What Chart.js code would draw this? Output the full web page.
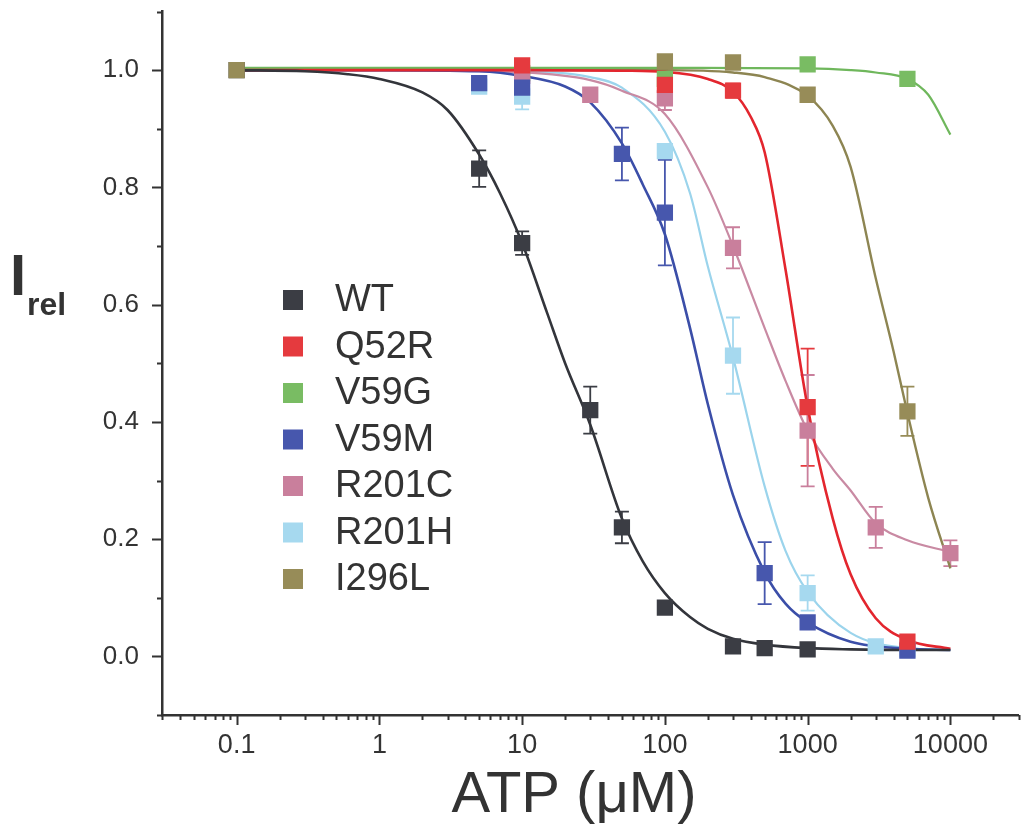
<!DOCTYPE html>
<html>
<head>
<meta charset="utf-8">
<script src="https://cdn.jsdelivr.net/npm/chart.js@4.4.1/dist/chart.umd.min.js"></script>
<style>
  html, body { margin: 0; padding: 0; background: #ffffff; }
  #wrap { width: 1030px; height: 836px; position: relative; }
</style>
</head>
<body>
<div id="wrap"><canvas id="chart" width="1030" height="836"></canvas></div>
<script>
// ---- ATP inhibition of K-ATP currents: measured means, SEM and fitted curves ----
const seriesNames = ['WT', 'Q52R', 'V59G', 'V59M', 'R201C', 'R201H', 'I296L'];
const pointColors = ['#3b3d44', '#e53a3e', '#79bc63', '#4757ad', '#c97f9c', '#a6d9ef', '#978c58'];
const lineColors  = ['#33353b', '#e3262e', '#6fb75c', '#3b4ea8', '#c98aa3', '#9bd4ec', '#8d8552'];

// measured points (ATP in µM, relative current, SEM)
const wtAtp    = [0.1, 5, 10, 30, 50, 100, 300, 500, 1000];
const wtIrel   = [1.0, 0.832, 0.705, 0.42, 0.22, 0.083, 0.017, 0.014, 0.012];
const wtSem    = [0, 0.031, 0.02, 0.04, 0.027, 0, 0, 0, 0];

const q52rAtp  = [10, 100, 300, 1000, 5000];
const q52rIrel = [1.008, 0.975, 0.965, 0.425, 0.025];
const q52rSem  = [0, 0.01, 0.012, 0.1, 0];

const v59gAtp  = [10, 100, 1000, 5000];
const v59gIrel = [0.995, 0.985, 1.01, 0.985];
const v59gSem  = [0, 0.01, 0, 0];

const v59mAtp  = [5, 10, 50, 100, 500, 1000, 5000];
const v59mIrel = [0.978, 0.97, 0.857, 0.757, 0.142, 0.058, 0.01];
const v59mSem  = [0.012, 0, 0.045, 0.09, 0.053, 0.01, 0];

const r201cAtp  = [10, 30, 100, 300, 1000, 3000, 10000];
const r201cIrel = [0.99, 0.958, 0.952, 0.697, 0.385, 0.22, 0.176];
const r201cSem  = [0.012, 0, 0.02, 0.035, 0.095, 0.035, 0.022];

const r201hAtp  = [5, 10, 100, 300, 1000, 3000, 5000];
const r201hIrel = [0.972, 0.955, 0.862, 0.513, 0.108, 0.017, 0.012];
const r201hSem  = [0.01, 0.022, 0.012, 0.065, 0.03, 0, 0];

const i296lAtp  = [0.1, 100, 300, 1000, 5000];
const i296lIrel = [1.0, 1.015, 1.013, 0.958, 0.418];
const i296lSem  = [0, 0, 0, 0.01, 0.042];

// fitted dose-response curves, sampled along the ATP axis
const wtFitAtp  = [0.1, 0.3, 0.6, 1, 2, 3, 5, 7, 10, 15, 20, 30, 50, 70, 100, 150, 200, 300, 500, 1000, 2000, 5000, 10000];
const wtFitIrel = [1.0, 0.998, 0.993, 0.985, 0.962, 0.932, 0.856, 0.79, 0.705, 0.585, 0.50, 0.395, 0.235, 0.162, 0.108, 0.067, 0.047, 0.03, 0.02, 0.014, 0.012, 0.011, 0.011];

const q52rFitAtp  = [0.1, 10, 50, 100, 200, 300, 400, 500, 700, 1000, 1500, 2000, 3000, 5000, 10000];
const q52rFitIrel = [1.0, 1.0, 0.999, 0.997, 0.985, 0.963, 0.92, 0.86, 0.66, 0.425, 0.235, 0.14, 0.065, 0.028, 0.013];

const v59gFitAtp  = [0.1, 100, 1000, 2000, 3000, 5000, 7000, 10000];
const v59gFitIrel = [1.004, 1.004, 1.003, 1.0, 0.996, 0.985, 0.958, 0.89];

const v59mFitAtp  = [0.1, 1, 5, 10, 20, 30, 50, 70, 100, 150, 200, 300, 500, 700, 1000, 2000, 5000, 10000];
const v59mFitIrel = [1.0, 1.0, 0.998, 0.99, 0.972, 0.945, 0.875, 0.805, 0.72, 0.56, 0.43, 0.275, 0.143, 0.09, 0.058, 0.025, 0.013, 0.011];

const r201cFitAtp  = [0.1, 1, 10, 30, 50, 100, 200, 300, 500, 700, 1000, 1500, 2000, 3000, 5000, 10000];
const r201cFitIrel = [1.0, 1.0, 0.996, 0.983, 0.965, 0.925, 0.80, 0.70, 0.56, 0.47, 0.385, 0.32, 0.283, 0.227, 0.198, 0.178];

const r201hFitAtp  = [0.1, 1, 10, 30, 50, 100, 150, 200, 300, 500, 700, 1000, 2000, 5000, 10000];
const r201hFitIrel = [1.0, 1.0, 0.998, 0.988, 0.97, 0.895, 0.79, 0.665, 0.51, 0.29, 0.18, 0.11, 0.04, 0.014, 0.011];

const i296lFitAtp  = [0.1, 100, 300, 500, 1000, 1500, 2000, 3000, 4000, 5000, 7000, 10000];
const i296lFitIrel = [1.0, 1.0, 0.996, 0.988, 0.956, 0.905, 0.835, 0.645, 0.52, 0.415, 0.27, 0.15];

// axis ticks
const xTickValues = [0.1, 1, 10, 100, 1000, 10000];
const xTickLabels = ['0.1', '1', '10', '100', '1000', '10000'];
const yTickValues = [0, 0.2, 0.4, 0.6, 0.8, 1.0];
const yTickLabels = ['0.0', '0.2', '0.4', '0.6', '0.8', '1.0'];

const pointAtp  = [wtAtp, q52rAtp, v59gAtp, v59mAtp, r201cAtp, r201hAtp, i296lAtp];
const pointIrel = [wtIrel, q52rIrel, v59gIrel, v59mIrel, r201cIrel, r201hIrel, i296lIrel];
const pointSem  = [wtSem, q52rSem, v59gSem, v59mSem, r201cSem, r201hSem, i296lSem];
const fitAtp    = [wtFitAtp, q52rFitAtp, v59gFitAtp, v59mFitAtp, r201cFitAtp, r201hFitAtp, i296lFitAtp];
const fitIrel   = [wtFitIrel, q52rFitIrel, v59gFitIrel, v59mFitIrel, r201cFitIrel, r201hFitIrel, i296lFitIrel];

// stacking: lower number is painted last (on top)
const pointOrder = [4, 2, 7, 3, 6, 5, 1];
const lineWidths = [2.6, 2.6, 2.2, 2.6, 2.2, 2.2, 2.4];

const FONT = "'Liberation Sans', Arial, Helvetica, sans-serif";
const INK = '#333333';

function pairs(xs, ys) { return xs.map((x, i) => ({ x: x, y: ys[i] })); }

const datasets = [];
seriesNames.forEach((name, i) => {
  datasets.push({
    label: name + ' fit',
    data: pairs(fitAtp[i], fitIrel[i]),
    showLine: true,
    borderColor: lineColors[i],
    borderWidth: lineWidths[i],
    pointRadius: 0,
    cubicInterpolationMode: 'monotone',
    fill: false,
    order: 20 + i
  });
});
seriesNames.forEach((name, i) => {
  datasets.push({
    label: name,
    data: pairs(pointAtp[i], pointIrel[i]),
    showLine: false,
    pointStyle: 'rect',
    pointRadius: 11.5,
    pointBorderWidth: 0,
    pointBackgroundColor: pointColors[i],
    pointBorderColor: pointColors[i],
    order: pointOrder[i]
  });
});

// vertical SEM bars with caps, drawn beneath the markers
const semBars = {
  id: 'semBars',
  beforeDatasetsDraw(chart) {
    const { ctx, scales: { x, y } } = chart;
    ctx.save();
    ctx.lineWidth = 1.8;
    seriesNames.forEach((name, i) => {
      ctx.strokeStyle = pointColors[i];
      pointAtp[i].forEach((a, k) => {
        const s = pointSem[i][k];
        if (!s) return;
        const px = x.getPixelForValue(a);
        const top = y.getPixelForValue(pointIrel[i][k] + s);
        const bot = y.getPixelForValue(pointIrel[i][k] - s);
        ctx.beginPath();
        ctx.moveTo(px, top); ctx.lineTo(px, bot);
        ctx.moveTo(px - 7, top); ctx.lineTo(px + 7, top);
        ctx.moveTo(px - 7, bot); ctx.lineTo(px + 7, bot);
        ctx.stroke();
      });
    });
    ctx.restore();
  }
};

// outward tick marks: decades and 2..9 subdivisions on x, 0.1 steps on y
const axisTicks = {
  id: 'axisTicks',
  afterDraw(chart) {
    const { ctx, scales: { x, y }, chartArea: a } = chart;
    ctx.save();
    ctx.strokeStyle = INK;
    ctx.lineWidth = 2;
    ctx.beginPath();
    for (let e = -2; e <= 4; e++) {
      for (let m = 1; m <= 9; m++) {
        const v = m * Math.pow(10, e);
        if (v < x.min * 0.999 || v > x.max * 1.001) continue;
        const px = Math.round(x.getPixelForValue(v)) + 0.5;
        const len = m === 1 ? 10 : 5;
        ctx.moveTo(px, a.bottom);
        ctx.lineTo(px, a.bottom + len);
      }
    }
    for (let k = -1; k <= 11; k++) {
      const py = Math.round(y.getPixelForValue(k / 10)) + 0.5;
      const len = (k % 2 === 0) ? 10 : 5;
      ctx.moveTo(a.left - len, py);
      ctx.lineTo(a.left, py);
    }
    ctx.stroke();
    ctx.restore();
  }
};

// axis titles and the in-plot legend
const annotations = {
  id: 'annotations',
  afterDraw(chart) {
    const { ctx } = chart;
    ctx.save();
    ctx.fillStyle = INK;
    ctx.textBaseline = 'alphabetic';
    // x title
    ctx.textAlign = 'center';
    ctx.font = '58px ' + FONT;
    ctx.fillText('ATP (\u03BCM)', 574, 812);
    // y title: I with subscript rel
    ctx.textAlign = 'left';
    ctx.font = 'bold 58px ' + FONT;
    ctx.fillText('I', 10, 295);
    ctx.font = 'bold 32px ' + FONT;
    ctx.fillText('rel', 27, 315);
    // legend
    const rows = [300, 346.5, 393, 439.5, 486, 532.5, 579];
    ctx.font = '38px ' + FONT;
    ctx.textBaseline = 'middle';
    seriesNames.forEach((name, i) => {
      ctx.fillStyle = pointColors[i];
      ctx.fillRect(283, rows[i] - 10, 20, 20);
      ctx.fillStyle = INK;
      ctx.fillText(name, 335, rows[i] + 1);
    });
    ctx.restore();
  }
};

new Chart(document.getElementById('chart'), {
  type: 'scatter',
  data: { datasets: datasets },
  options: {
    responsive: false,
    animation: false,
    devicePixelRatio: 1,
    layout: { padding: { top: 9, right: 6, left: 0, bottom: 0 } },
    plugins: { legend: { display: false }, tooltip: { enabled: false }, title: { display: false } },
    scales: {
      x: {
        type: 'logarithmic',
        min: 0.03,
        max: 30000,
        afterBuildTicks: (s) => { s.ticks = xTickValues.map(v => ({ value: v })); },
        afterFit: (s) => { s.height = 121; s.paddingLeft = 0; s.paddingRight = 0; },
        ticks: {
          autoSkip: false,
          maxRotation: 0,
          padding: 4,
          color: INK,
          font: { family: FONT, size: 27 },
          callback: (v, i) => xTickLabels[i]
        },
        grid: { display: false, drawTicks: true, tickLength: 10 },
        border: { display: true, color: INK, width: 2.5 }
      },
      y: {
        type: 'linear',
        min: -0.1,
        max: 1.1,
        afterBuildTicks: (s) => { s.ticks = yTickValues.map(v => ({ value: v })); },
        afterFit: (s) => { s.width = 162; s.paddingTop = 0; s.paddingBottom = 0; },
        ticks: {
          padding: 13,
          color: INK,
          font: { family: FONT, size: 26 },
          callback: (v, i) => yTickLabels[i]
        },
        grid: { display: false, drawTicks: true, tickLength: 10 },
        border: { display: true, color: INK, width: 2.5 }
      }
    }
  },
  plugins: [semBars, axisTicks, annotations]
});
</script>
</body>
</html>
